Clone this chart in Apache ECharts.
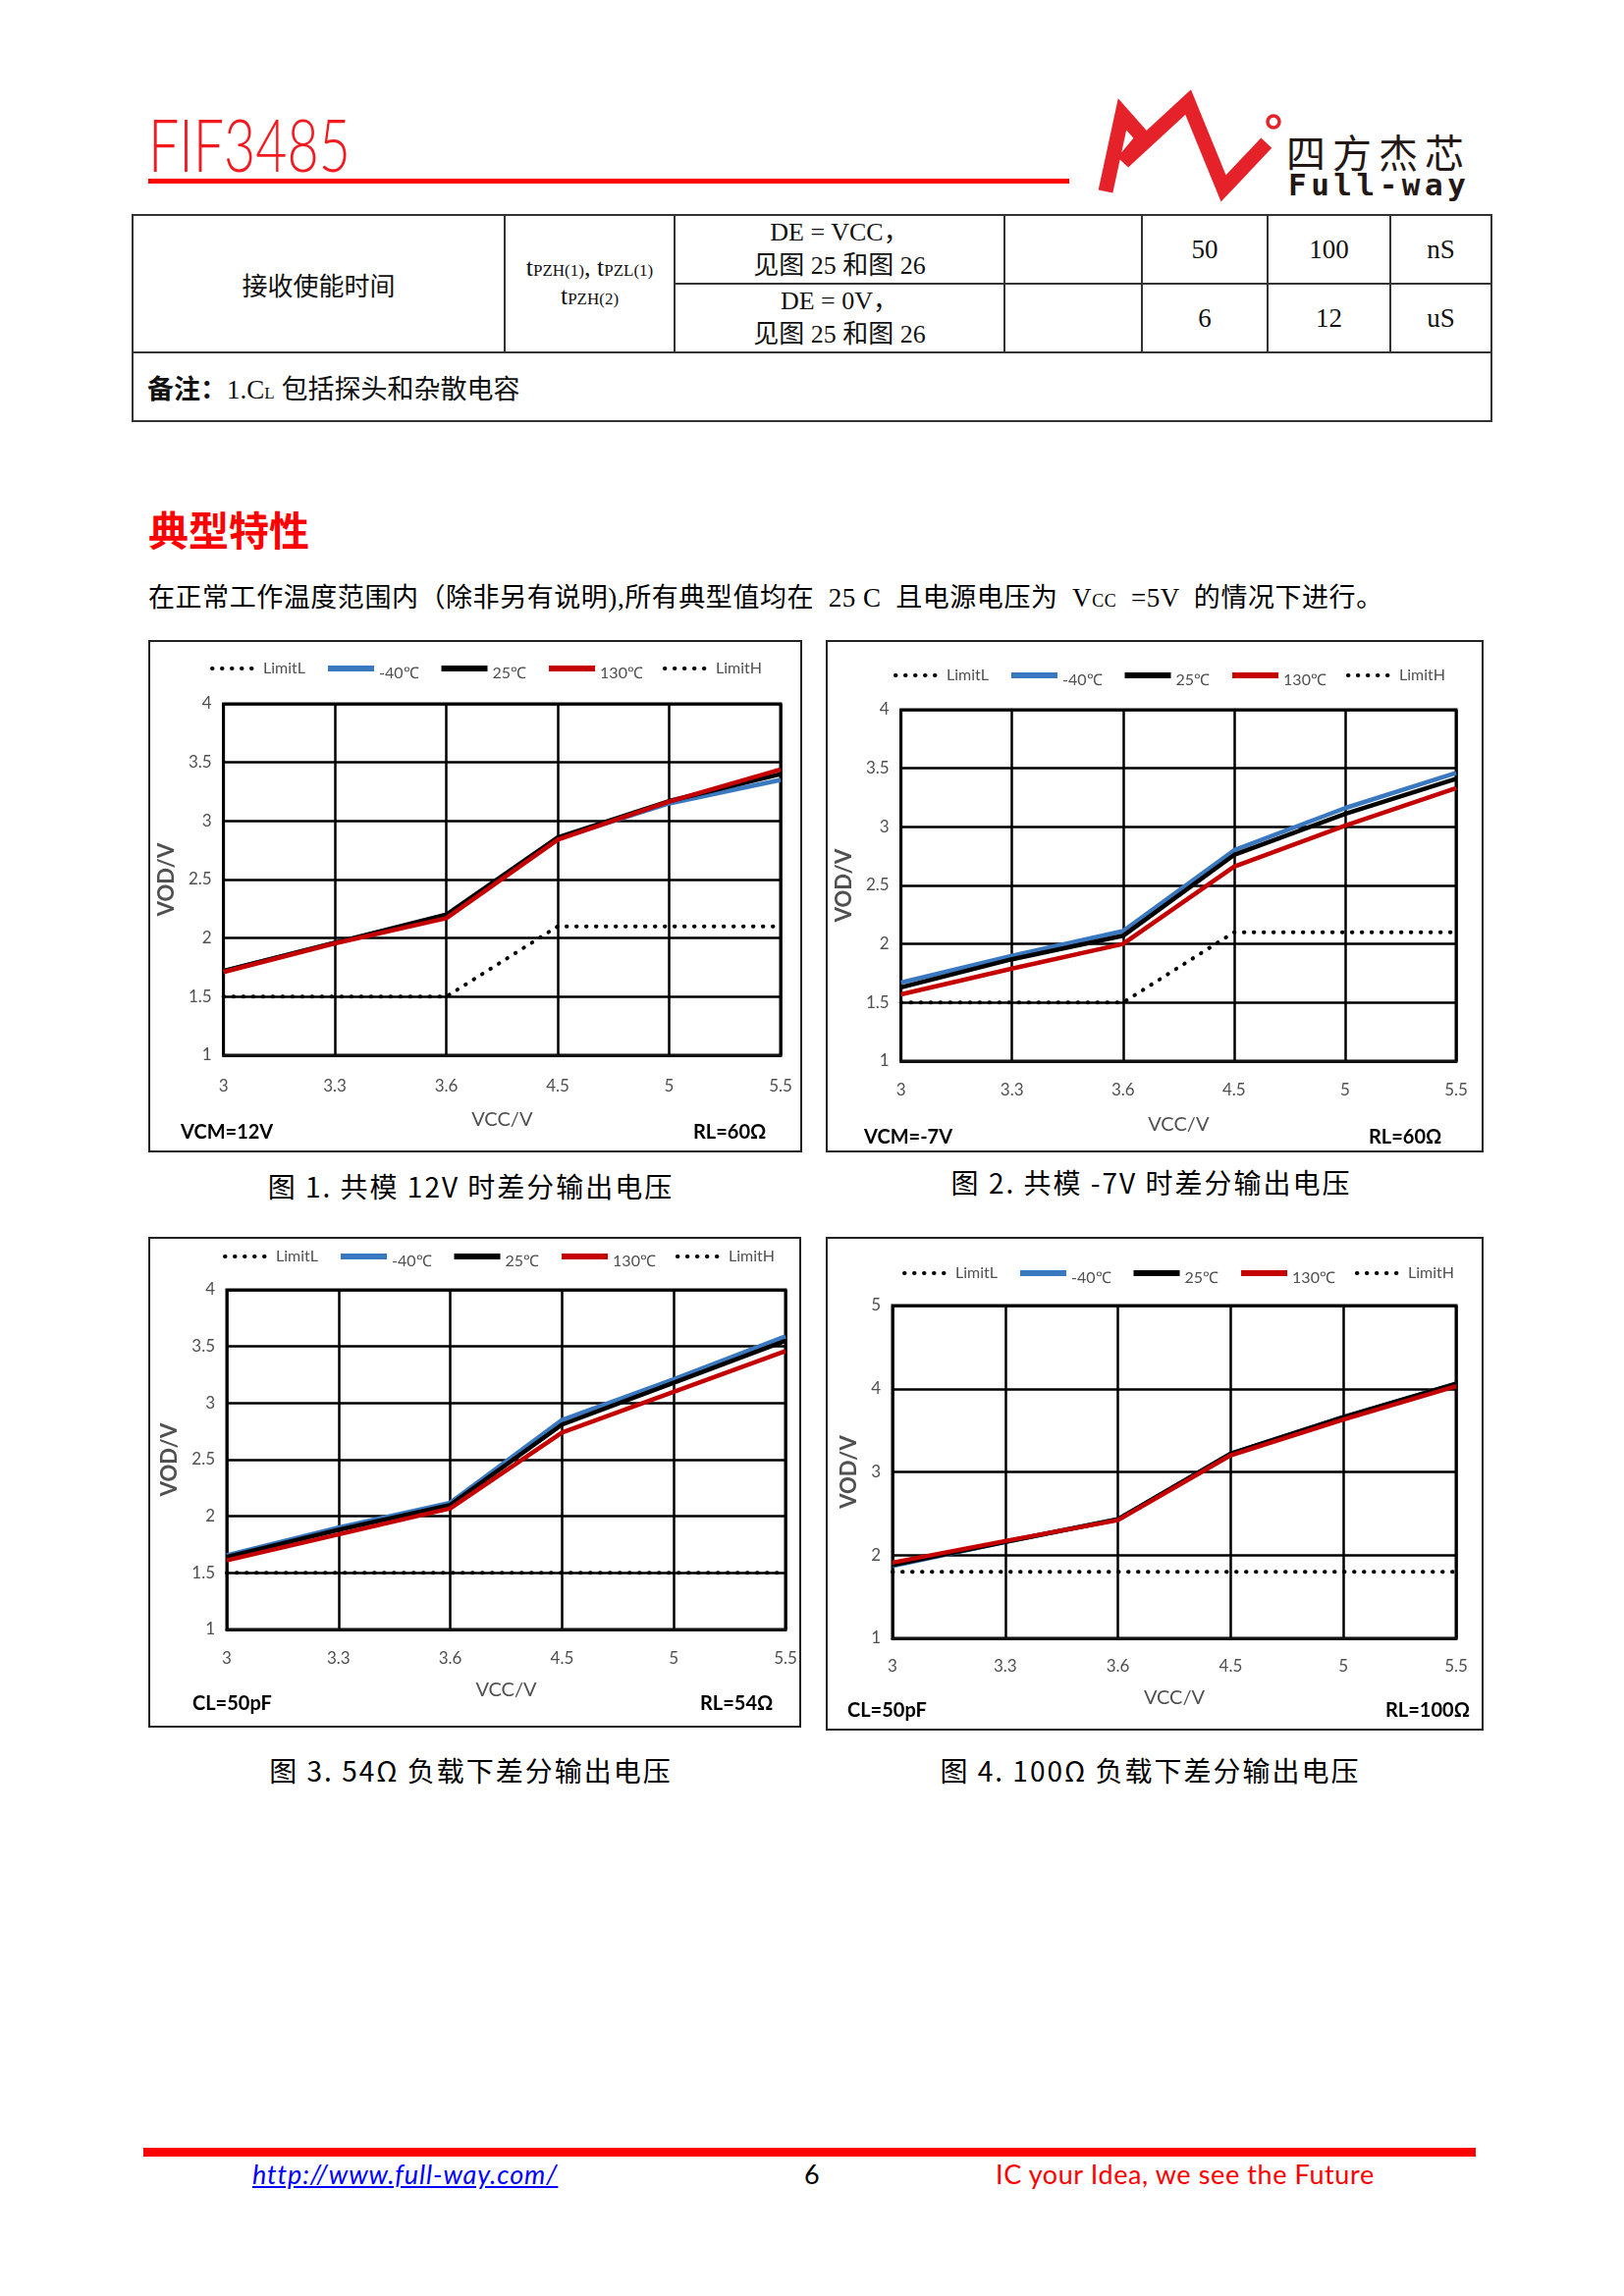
<!DOCTYPE html>
<html>
<head>
<meta charset="utf-8">
<script src="https://cdn.jsdelivr.net/npm/echarts@6/dist/echarts.min.js"></script>
<style>
html,body{margin:0;padding:0;background:#fff;}
#page{position:relative;width:1654px;height:2339px;overflow:hidden;background:#fff;font-family:"Noto Sans CJK SC",sans-serif;color:#000;}
.abs{position:absolute;white-space:pre;}
table.spec{position:absolute;left:134px;top:218px;border-collapse:collapse;table-layout:fixed;font-family:"Liberation Serif","Noto Sans CJK SC",serif;font-size:27px;color:#111;}
table.spec td{border:2px solid #333;text-align:center;vertical-align:middle;padding:0;}
table.spec tr{height:70px;}
.sub{font-size:17px;}
.chart{position:absolute;}
.cap{position:absolute;white-space:pre;text-align:center;font-size:28px;line-height:36px;letter-spacing:2px;}
</style>
</head>
<body>
<div id="page">
  <!-- header -->
  <div class="abs" style="left:151px;top:110px;font-family:Lato,sans-serif;font-weight:300;font-size:74px;line-height:74px;color:#F21A1F;transform:scaleX(0.75);transform-origin:0 0;">FIF3485</div>
  <div class="abs" style="left:151px;top:182px;width:938px;height:5px;background:#FF0000;"></div>
  <svg class="abs" style="left:1100px;top:85px;" width="420" height="130" viewBox="1100 85 420 130">
    <polyline points="1126,195 1143,116.4 1164.3,140.4 1144,165.1 1210.1,104 1246.1,192 1289.8,145.6" fill="none" stroke="#E52129" stroke-width="15" stroke-linejoin="miter" stroke-miterlimit="6"/>
    <circle cx="1297" cy="124" r="6" fill="#fff" stroke="#E52129" stroke-width="3.5"/>
  </svg>
  <div class="abs" style="left:1310px;top:133px;font-size:40px;line-height:42px;letter-spacing:7px;color:#231815;">四方杰芯</div>
  <div class="abs" style="left:1312px;top:172px;font-family:'DejaVu Sans Mono',monospace;font-weight:bold;font-size:31px;line-height:32px;letter-spacing:4.5px;color:#231815;">Full-way</div>

  <!-- table -->
  <table class="spec">
    <colgroup><col style="width:379px"><col style="width:173px"><col style="width:336px"><col style="width:140px"><col style="width:128px"><col style="width:125px"><col style="width:103px"></colgroup>
    <tr>
      <td rowspan="2" style="font-family:'Noto Sans CJK SC';font-size:26px;">接收使能时间</td>
      <td rowspan="2" style="line-height:26px;font-size:26px;">t<span class="sub">PZH(1)</span>, t<span class="sub">PZL(1)</span><br>t<span class="sub">PZH(2)</span></td>
      <td style="line-height:34px;font-size:26px;">DE = VCC，<br>见图 25 和图 26</td>
      <td></td>
      <td>50</td>
      <td>100</td>
      <td>nS</td>
    </tr>
    <tr>
      <td style="line-height:34px;font-size:26px;">DE = 0V，<br>见图 25 和图 26</td>
      <td></td>
      <td>6</td>
      <td>12</td>
      <td>uS</td>
    </tr>
    <tr>
      <td colspan="7" style="text-align:left;padding-left:14px;font-size:27px;"><b style="font-family:'Noto Sans CJK SC';">备注：</b>1.C<span class="sub">L</span> 包括探头和杂散电容</td>
    </tr>
  </table>

  <!-- section -->
  <div class="abs" style="left:151px;top:517px;font-size:41px;line-height:42px;font-weight:bold;color:#FF0000;">典型特性</div>
  <div class="abs" style="left:151px;top:594px;font-family:'Liberation Serif','Noto Sans CJK SC',serif;font-size:27px;line-height:30px;letter-spacing:0.55px;">在正常工作温度范围内（除非另有说明),所有典型值均在  25 C  且电源电压为  V<span style="font-size:18px;">CC</span>  =5V  的情况下进行。</div>

  <!-- charts -->
  <div id="c1" class="chart" style="left:151px;top:652px;width:666px;height:522px;"></div>
  <div id="c2" class="chart" style="left:841px;top:652px;width:670px;height:522px;"></div>
  <div id="c3" class="chart" style="left:151px;top:1260px;width:665px;height:500px;"></div>
  <div id="c4" class="chart" style="left:841px;top:1260px;width:670px;height:503px;"></div>

  <!-- captions -->
  <div class="cap" style="left:151px;top:1190px;width:657px;">图 1. 共模 12V 时差分输出电压</div>
  <div class="cap" style="left:841px;top:1186px;width:663px;">图 2. 共模 -7V 时差分输出电压</div>
  <div class="cap" style="left:151px;top:1785px;width:657px;">图 3. 54Ω 负载下差分输出电压</div>
  <div class="cap" style="left:841px;top:1785px;width:661px;">图 4. 100Ω 负载下差分输出电压</div>

  <!-- footer -->
  <div class="abs" style="left:146px;top:2188px;width:1357px;height:9px;background:#FF0000;"></div>
  <div class="abs" style="left:257px;top:2199px;font-family:Lato,sans-serif;font-style:italic;font-size:27px;line-height:32px;letter-spacing:0.9px;color:#0000FF;text-decoration:underline;">http://www.full-way.com/</div>
  <div class="abs" style="left:819px;top:2199px;font-family:Lato,sans-serif;font-size:27px;line-height:32px;">6</div>
  <div class="abs" style="left:1014px;top:2199px;font-family:Lato,sans-serif;font-size:27px;line-height:32px;letter-spacing:0.6px;color:#FF0000;">IC your Idea, we see the Future</div>
</div>

<script>
// ---------- data ----------
const xCategories = ['3', '3.3', '3.6', '4.5', '5', '5.5'];
const seriesNames = ['LimitL', '-40℃', '25℃', '130℃', 'LimitH'];

// Fig 1: VCM = 12V, RL = 60Ω
const fig1LimitL = [1.5, 1.5, 1.5, 2.1, 2.1, 2.1];
const fig1Minus40 = [1.72, 1.96, 2.19, 2.85, 3.15, 3.35];
const fig1T25 = [1.72, 1.96, 2.20, 2.86, 3.17, 3.40];
const fig1T130 = [1.71, 1.955, 2.17, 2.84, 3.165, 3.44];
const fig1LimitH = [];

// Fig 2: VCM = -7V, RL = 60Ω
const fig2LimitL = [1.5, 1.5, 1.5, 2.1, 2.1, 2.1];
const fig2Minus40 = [1.67, 1.90, 2.11, 2.80, 3.16, 3.46];
const fig2T25 = [1.63, 1.87, 2.07, 2.76, 3.11, 3.41];
const fig2T130 = [1.57, 1.79, 2.00, 2.66, 3.01, 3.33];
const fig2LimitH = [];

// Fig 3: CL = 50pF, RL = 54Ω
const fig3LimitL = [1.5, 1.5, 1.5, 1.5, 1.5, 1.5];
const fig3Minus40 = [1.655, 1.90, 2.12, 2.85, 3.21, 3.59];
const fig3T25 = [1.64, 1.88, 2.10, 2.81, 3.18, 3.55];
const fig3T130 = [1.61, 1.84, 2.07, 2.74, 3.10, 3.46];
const fig3LimitH = [];

// Fig 4: CL = 50pF, RL = 100Ω
const fig4LimitL = [1.8, 1.8, 1.8, 1.8, 1.8, 1.8];
const fig4Minus40 = [1.87, 2.16, 2.43, 3.22, 3.66, 4.06];
const fig4T25 = [1.88, 2.16, 2.43, 3.22, 3.66, 4.06];
const fig4T130 = [1.91, 2.17, 2.42, 3.20, 3.63, 4.03];
const fig4LimitH = [];

// y scale settings
const yScale123 = { min: 1, max: 4, interval: 0.5 };
const yScale4 = { min: 1, max: 5, interval: 1 };

// ---------- chart builder ----------
const FONT = 'Lato, "Liberation Sans", sans-serif';
const GREY = '#505050';
const BLUE = '#3A78C0';
const RED = '#C40000';
const DOT_STYLE = { width: 4, type: [0.5, 9.5], cap: 'round' };

function build(el, cfg) {
  const chart = echarts.init(el);
  const W = el.clientWidth, H = el.clientHeight;
  const colors = ['#000', BLUE, '#000', RED, '#000'];
  const data = [cfg.limitL, cfg.m40, cfg.t25, cfg.t130, cfg.limitH];
  const series = seriesNames.map((n, i) => ({
    name: n,
    type: 'line',
    data: data[i],
    symbol: 'none',
    silent: true,
    color: colors[i],
    lineStyle: (i === 0 || i === 4) ? Object.assign({ color: '#000' }, DOT_STYLE) : { width: 4.5, color: colors[i] },
    z: i === 0 || i === 4 ? 3 : 4 + i
  }));
  const legendData = seriesNames.map((n, i) => ({
    name: n,
    itemStyle: { opacity: 0 },
    lineStyle: (i === 0 || i === 4) ? { width: 4 } : { width: 6 }
  }));
  chart.setOption({
    animation: false,
    backgroundColor: '#fff',
    legend: {
      data: legendData,
      left: cfg.legendLeft,
      top: cfg.legendTop,
      itemWidth: 47,
      itemHeight: 12,
      itemGap: 20,
      selectedMode: false,
      itemStyle: { opacity: 0 },
      formatter: name => name.indexOf('℃') >= 0 ? '{t|' + name + '}' : name,
      textStyle: {
        fontFamily: FONT, fontSize: 16, color: GREY,
        rich: { t: { fontFamily: FONT, fontSize: 16, color: GREY, padding: [10, 0, 0, 0] } }
      }
    },
    grid: {
      left: cfg.grid[0], right: cfg.grid[1], top: cfg.grid[2], bottom: cfg.grid[3],
      show: true, borderColor: '#000', borderWidth: 3, backgroundColor: '#fff'
    },
    xAxis: {
      type: 'category',
      data: xCategories,
      boundaryGap: false,
      axisLine: { show: true, lineStyle: { color: '#111', width: 3 } },
      axisTick: { show: false },
      axisLabel: { color: GREY, fontFamily: FONT, fontSize: 17, margin: cfg.xLabelMargin, interval: 0 },
      splitLine: { show: true, interval: 0, lineStyle: { color: '#000', width: 2.5 } },
      name: 'VCC/V',
      nameLocation: 'middle',
      nameGap: cfg.xNameGap,
      nameTextStyle: { color: GREY, fontFamily: FONT, fontSize: 20 }
    },
    yAxis: {
      type: 'value',
      min: cfg.y.min, max: cfg.y.max, interval: cfg.y.interval,
      axisLine: { show: false },
      axisTick: { show: false },
      axisLabel: { color: GREY, fontFamily: FONT, fontSize: 17, margin: 12 },
      splitLine: { show: true, lineStyle: { color: '#000', width: 2.5 } },
      name: 'VOD/V',
      nameLocation: 'middle',
      nameRotate: 90,
      nameGap: cfg.yNameGap,
      nameTextStyle: { color: GREY, fontFamily: FONT, fontSize: 22, fontWeight: 'bold' }
    },
    graphic: [
      { type: 'rect', silent: true, shape: { x: 1, y: 1, width: W - 2, height: H - 2 },
        style: { fill: 'none', stroke: '#222', lineWidth: 2 }, z: 100 },
      { type: 'text', silent: true, x: cfg.leftNote[1], y: cfg.leftNote[2],
        style: { text: cfg.leftNote[0], fill: '#000', font: 'bold 20px ' + FONT, verticalAlign: 'middle' } },
      { type: 'text', silent: true, x: cfg.rightNote[1], y: cfg.rightNote[2],
        style: { text: cfg.rightNote[0], fill: '#000', font: 'bold 20px ' + FONT, verticalAlign: 'middle' } }
    ],
    series: series
  });
  return chart;
}

build(document.getElementById('c1'), {
  limitL: fig1LimitL, m40: fig1Minus40, t25: fig1T25, t130: fig1T130, limitH: fig1LimitH,
  y: yScale123, grid: [67, 22, 65, 99], legendLeft: 58, legendTop: 16,
  xLabelMargin: 23, xNameGap: 56, yNameGap: 44,
  leftNote: ['VCM=12V', 33, 502], rightNote: ['RL=60Ω', 555, 502]
});
build(document.getElementById('c2'), {
  limitL: fig2LimitL, m40: fig2Minus40, t25: fig2T25, t130: fig2T130, limitH: fig2LimitH,
  y: yScale123, grid: [73, 28, 71, 93], legendLeft: 64, legendTop: 23,
  xLabelMargin: 21, xNameGap: 55, yNameGap: 43,
  leftNote: ['VCM=-7V', 39, 507], rightNote: ['RL=60Ω', 553, 507]
});
build(document.getElementById('c3'), {
  limitL: fig3LimitL, m40: fig3Minus40, t25: fig3T25, t130: fig3T130, limitH: fig3LimitH,
  y: yScale123, grid: [80, 16, 54, 100], legendLeft: 71, legendTop: 7,
  xLabelMargin: 21, xNameGap: 52, yNameGap: 45,
  leftNote: ['CL=50pF', 45, 476], rightNote: ['RL=54Ω', 562, 476]
});
build(document.getElementById('c4'), {
  limitL: fig4LimitL, m40: fig4Minus40, t25: fig4T25, t130: fig4T130, limitH: fig4LimitH,
  y: yScale4, grid: [68, 28, 70, 94], legendLeft: 73, legendTop: 24,
  xLabelMargin: 20, xNameGap: 51, yNameGap: 30,
  leftNote: ['CL=50pF', 22, 483], rightNote: ['RL=100Ω', 570, 483]
});
</script>
</body>
</html>
